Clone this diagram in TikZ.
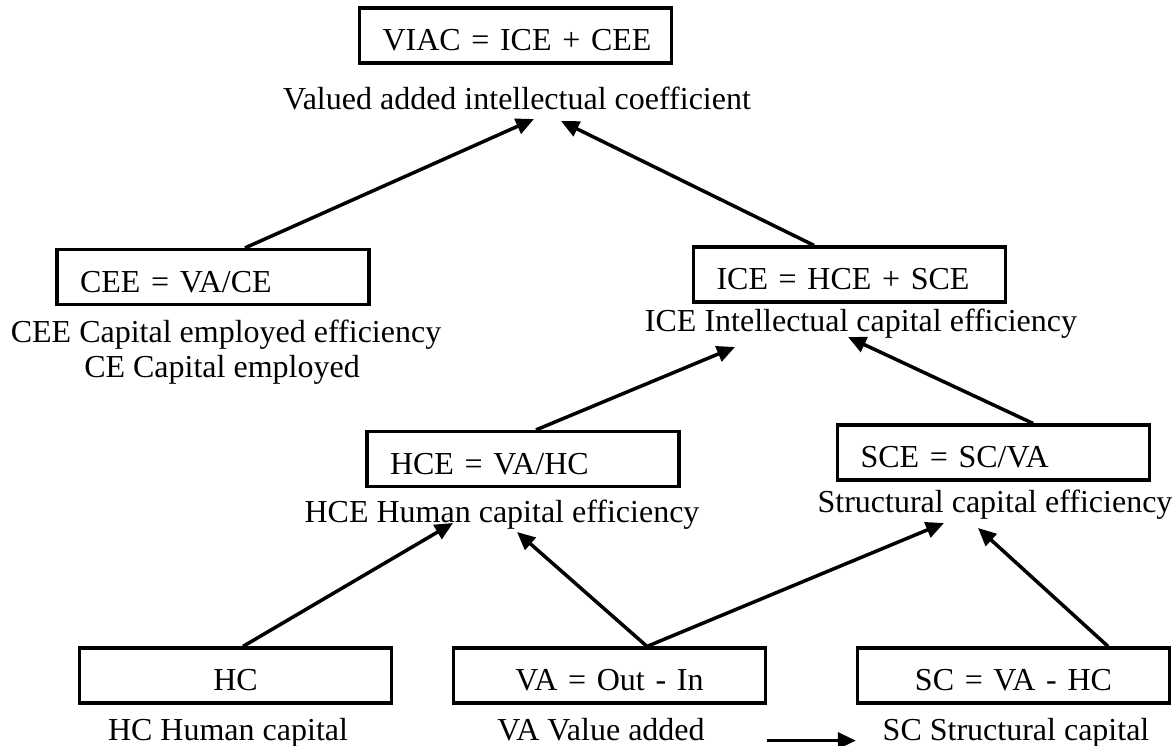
\documentclass[tikz,border=0pt]{standalone}
\usepackage{fontspec}
\setmainfont{Liberation Serif}
\usetikzlibrary{arrows.meta,calc}
\begin{document}
\begin{tikzpicture}[x=1pt,y=-1pt,
  every node/.style={font=\fontsize{32}{38}\selectfont},
  bx/.style={draw,line width=3.2pt,rectangle,minimum width=312pt,minimum height=55pt,
    inner ysep=0pt,inner xsep=23pt,text width=266pt,text height=31.5pt,text depth=1.5pt},
  lbx/.style={bx,align=left},
  cbx/.style={bx,align=center},
  lbl/.style={anchor=base,inner sep=0pt},
  arr/.style={line width=3.5pt,-{Triangle[length=18pt,width=16pt]}}]
\useasboundingbox (0,0) rectangle (1174,746);
\node[lbx] (viac) at (515.5,35.5) {\mbox{VIAC = ICE + CEE}};
\node[lbl] (lviac) at (517,110) {Valued added intellectual coefficient};
\node[lbx] (cee) at (213,277) {\mbox{CEE = VA/CE}};
\node[lbl] (lcee1) at (226,342) {CEE Capital employed efficiency};
\node[lbl] (lcee2) at (222,377) {CE Capital employed};
\node[lbx] (ice) at (849.5,274.5) {\mbox{ICE = HCE + SCE}};
\node[lbl] (lice) at (861,331) {ICE Intellectual capital efficiency};
\node[lbx] (hce) at (523,459) {\mbox{HCE = VA/HC}};
\node[lbl] (lhce) at (502,522) {HCE Human capital efficiency};
\node[lbx] (sce) at (993.5,452.5) {\mbox{SCE = SC/VA}};
\node[lbl] (lsce) at (995,512) {Structural capital efficiency};
\node[cbx] (hc) at (235.5,675.5) {HC};
\node[lbl] (lhc) at (228,740) {HC Human capital};
\node[cbx] (va) at (609.5,675.5) {\mbox{VA = Out - In}};
\node[lbl] (lva) at (601,740) {VA Value added};
\node[cbx] (sc) at (1013.5,675.5) {\mbox{SC = VA - HC}};
\node[lbl] (lsc) at (1016,740) {SC Structural capital};
\draw[arr] ($(cee.north)+(32,0)$) -- ($(lviac.base)+(17,9)$);
\draw[arr] ($(ice.north)+(-35.5,0)$) -- ($(lviac.base)+(44,11)$);
\draw[arr] ($(hce.north)+(13,0)$) -- ($(lice.base)+(-126,16)$);
\draw[arr] ($(sce.north)+(39.5,0)$) -- ($(lice.base)+(-13,6)$);
\draw[arr] ($(hc.north)+(7.5,0)$) -- ($(lhce.base)+(-49,1)$);
\draw[arr] ($(va.north)+(37.5,0)$) -- ($(lhce.base)+(15,10)$);
\draw[arr] ($(va.north)+(37.5,0)$) -- ($(lsce.base)+(-51,11)$);
\draw[arr] ($(sc.north)+(94.5,0)$) -- ($(lsce.base)+(-17,16)$);
\draw[arr] ($(va.south east)+(0,36)$) -- ($(sc.south west)+(0,36)$);
\end{tikzpicture}
\end{document}
